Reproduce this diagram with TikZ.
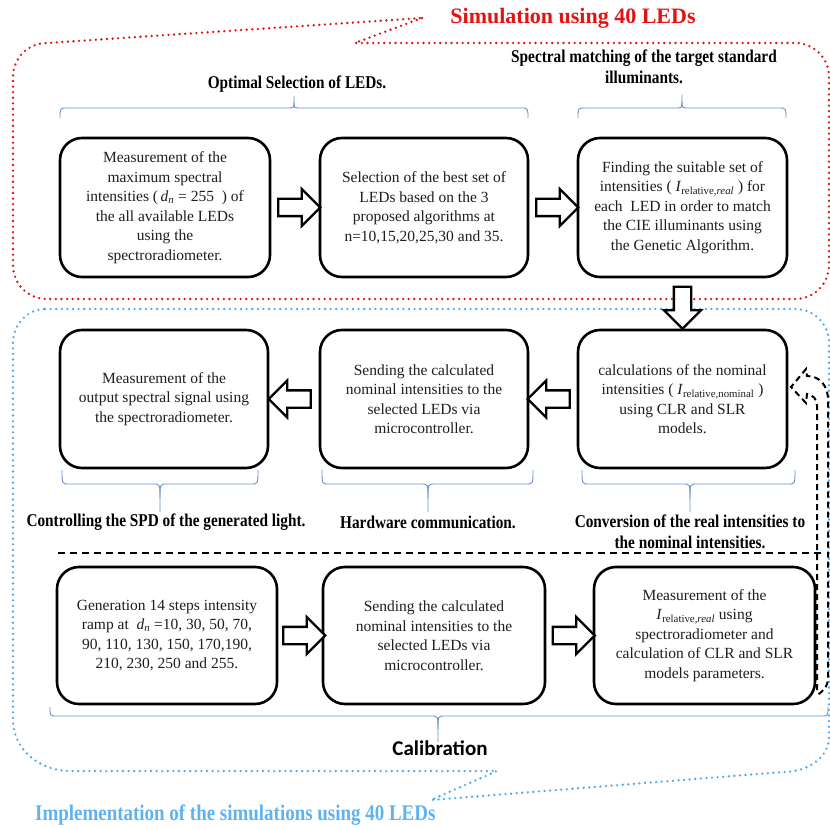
\documentclass[tikz,border=0pt]{standalone}
\usepackage{fontspec}
\setmainfont{Liberation Serif}
\newfontfamily\hfont{Liberation Serif}[FakeStretch=0.85]
\newfontfamily\calfont{Carlito}
\usetikzlibrary{shapes.arrows}
\definecolor{redd}{RGB}{228,18,18}
\definecolor{blued}{RGB}{80,170,240}
\definecolor{bluet}{RGB}{95,178,240}
\definecolor{bracec}{RGB}{105,145,205}
\definecolor{txt}{RGB}{30,30,30}
\newcommand\wbr[6]{% x1 x2 xm yend yline ytip
  \draw[brc] (#1,#4) .. controls (#1,#5) .. ({#1+7},#5) -- ({#3-7},#5) .. controls (#3,#5) .. (#3,{#5+0.5*(#6-#5)}) -- (#3,#6);
  \draw[brc] (#3,{#5+0.5*(#6-#5)}) .. controls (#3,#5) .. ({#3+7},#5) -- ({#2-7},#5) .. controls (#2,#5) .. (#2,#4);
}
\begin{document}
\begin{tikzpicture}[x=1pt,y=-1pt,
  box/.style={draw=black, line width=2.6pt, rounded corners=22pt, fill=white, align=center, text=txt,
    font=\fontsize{15.5}{19.5}\selectfont, inner sep=0pt},
  harr/.style={single arrow, draw=black, line width=2.3pt, fill=white, minimum height=42pt,
    inner xsep=0pt, inner ysep=7.5pt, single arrow head extend=10pt},
  head/.style={font=\hfont\bfseries\fontsize{18}{21}\selectfont, align=center, inner sep=0pt, text=black},
  reddot/.style={draw=redd, line width=2.6pt, line cap=round, dash pattern=on 0pt off 5.6pt},
  bluedot/.style={draw=blued, line width=2.6pt, line cap=round, dash pattern=on 0pt off 5.6pt},
  brc/.style={draw=bracec, line width=0.9pt},
  dsh/.style={draw=black, line width=2pt, dash pattern=on 6pt off 4pt}
]
\useasboundingbox (0,0) rectangle (830,829);

% callout outlines
\draw[reddot] (422,18) -- (355,43) -- (795,43) .. controls (814,43) and (829,58) .. (829,77)
  -- (829,265) .. controls (829,284) and (814,299) .. (795,299) -- (47,299)
  .. controls (28,299) and (13,284) .. (13,265) -- (13,77) .. controls (13,58) and (28,43) .. (47,43) -- cycle;
\draw[bluedot] (45,309) -- (795,309) .. controls (814,309) and (829,324) .. (829,343)
  -- (829,737) .. controls (829,756) and (810,772) .. (783,772) -- (431,800) -- (497,771) -- (70,771)
  .. controls (38,771) and (13,748) .. (13,720) -- (13,343) .. controls (13,324) and (28,309) .. (45,309) -- cycle;

% titles
\node[font=\bfseries\fontsize{22}{26}\selectfont, text=redd, inner sep=0pt] (t1) at (573,18) {Simulation using 40 LEDs};
\node[font=\hfont\bfseries\fontsize{22.3}{26}\selectfont, text=bluet, anchor=west, inner sep=0pt] (t2) at (35,815) {Implementation of the simulations using 40 LEDs};

% headings
\node[head] (h1) at (297,84) {Optimal Selection of LEDs.};
\node[head] (h2) at (644,67) {Spectral matching of the target standard\\illuminants.};
\wbr{60}{528}{294}{118}{108}{96}
\wbr{578}{786}{682}{118}{108}{95}

% top row
\node[box, minimum width=210pt, minimum height=139pt] (b1) at (165,207.5) {Measurement of the\\maximum spectral\\intensities (\,\textit{d}\textsubscript{\textit{n}} = 255\ \ ) of\\the all available LEDs\\using the\\spectroradiometer.};
\node[box, minimum width=208pt, minimum height=139pt] (b2) at (424,207.5) {Selection of the best set of\\LEDs based on the 3\\proposed algorithms at\\n=10,15,20,25,30 and 35.};
\node[box, minimum width=209pt, minimum height=139pt] (b3) at (682.5,207.5) {Finding the suitable set of\\intensities ( \textit{I}\textsubscript{relative,\textit{real}} ) for\\each\ \ LED in order to match\\the CIE illuminants using\\the Genetic Algorithm.};

% middle row
\node[box, minimum width=209pt, minimum height=138pt] (b4) at (682.5,399) {calculations of the nominal\\intensities ( \textit{I}\textsubscript{relative,nominal} )\\using CLR and SLR\\models.};
\node[box, minimum width=208pt, minimum height=138pt] (b5) at (424,399) {Sending the calculated\\nominal intensities to the\\selected LEDs via\\microcontroller.};
\node[box, minimum width=208pt, minimum height=138pt] (b6) at (164,399) {Measurement of the\\output spectral signal using\\the spectroradiometer.};

% middle braces and labels
\wbr{62}{258}{160}{470}{484}{512}
\wbr{322}{533}{428}{470}{484}{512}
\wbr{582}{795}{690}{470}{484}{512}
\node[head] (l1) at (166,522) {Controlling the SPD of the generated light.};
\node[head] (l2) at (428,522) {Hardware communication.};
\node[head] (l3) at (690,532) {Conversion of the real intensities to\\the nominal intensities.};

% separator
\draw[line width=1.6pt, dash pattern=on 7pt off 5pt] (58,553) -- (822,553);

% bottom row
\node[box, minimum width=220pt, minimum height=137pt] (b7) at (167,635.5) {Generation 14 steps intensity\\ramp at\ \ \textit{d}\textsubscript{\textit{n}} =10, 30, 50, 70,\\90, 110, 130, 150, 170,190,\\210, 230, 250 and 255.};
\node[box, minimum width=222pt, minimum height=137pt] (b8) at (434,635.5) {Sending the calculated\\nominal intensities to the\\selected LEDs via\\microcontroller.};
\node[box, minimum width=221pt, minimum height=137pt] (b9) at (704.5,635.5) {Measurement of the\\\textit{I}\textsubscript{relative,\textit{real}} using\\spectroradiometer and\\calculation of CLR and SLR\\models parameters.};

\wbr{50}{828}{438}{707}{716}{742}
\node[font=\calfont\bfseries\fontsize{21}{24}\selectfont, inner sep=0pt] (cal) at (440,748) {Calibration};

% block arrows
\path (b1) -- node[harr]{} (b2);
\path (b2) -- node[harr]{} (b3);
\path (b3) -- node[harr, rotate=-90]{} (b4);
\path (b4) -- node[harr, rotate=180]{} (b5);
\path (b5) -- node[harr, rotate=180]{} (b6);
\path (b7) -- node[harr]{} (b8);
\path (b8) -- node[harr]{} (b9);

% dashed feedback arrow from b9 to b4
\draw[dsh] (817,690) -- (817,406) .. controls (817,399) and (813,395) .. (807,394) -- (806,403) -- (791,387)
  -- (806,369) -- (807,376) .. controls (820,376) and (828,386) .. (828,400) -- (828,678)
  .. controls (828,687) and (822,693) .. (815,696);
\end{tikzpicture}
\end{document}
